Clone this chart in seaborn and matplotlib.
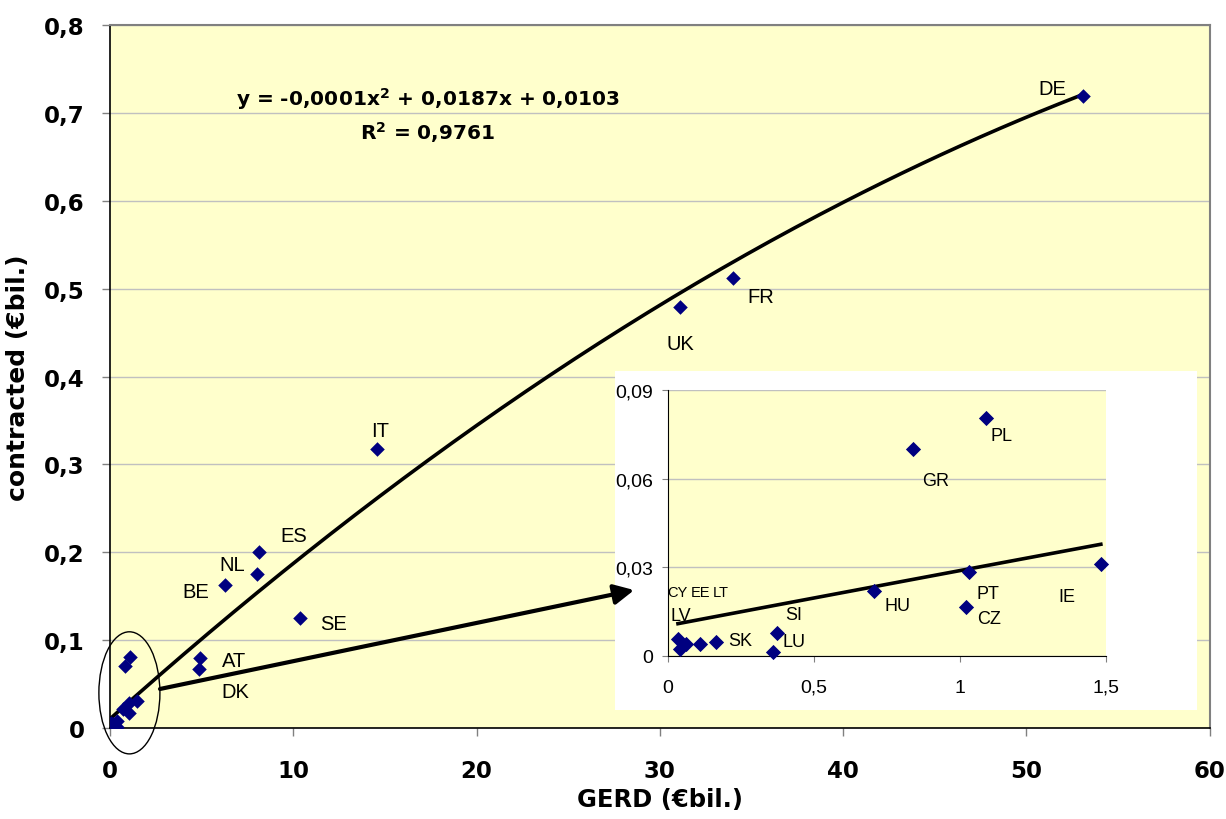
import numpy as np
import pandas as pd
import seaborn as sns
import matplotlib.pyplot as plt
from matplotlib.patches import Ellipse, Rectangle, FancyArrowPatch

# GERD vs contracted R&D, EUR bil.
countries = ['DE', 'FR', 'UK', 'IT', 'ES', 'NL', 'BE', 'SE', 'AT', 'DK',
             'PL', 'GR', 'IE', 'PT', 'CZ', 'HU', 'SI', 'LU', 'SK',
             'LT', 'EE', 'LV', 'CY']
gerd = [53.1, 34.0, 31.1, 14.57, 8.13, 8.02, 6.27, 10.37, 4.91, 4.86,
        1.089, 0.840, 1.482, 1.030, 1.019, 0.706, 0.374, 0.360, 0.163,
        0.111, 0.061, 0.034, 0.040]
contracted = [0.719, 0.512, 0.479, 0.318, 0.200, 0.175, 0.163, 0.125, 0.080, 0.067,
              0.0806, 0.0701, 0.0310, 0.0285, 0.0166, 0.0220, 0.0079, 0.0013, 0.0047,
              0.0039, 0.0042, 0.0057, 0.0025]
# trend line shown on the chart: y = -0,0001x^2 + 0,0187x + 0,0103
trend_coef = [-0.0001, 0.0187, 0.0103]
r2 = 0.9761

df = pd.DataFrame({'country': countries, 'gerd': gerd, 'contracted': contracted})

# label offsets in pixels (main chart / inset)
main_off = {'DE': (-31, 8), 'FR': (28, -18), 'UK': (0, -36), 'IT': (3, 18),
            'ES': (35, 17), 'NL': (-25, 10), 'BE': (-29, -7), 'SE': (33, -5),
            'AT': (34, -3), 'DK': (36, -22)}
inset_off = {'PL': (15, -18), 'GR': (22, -32), 'IE': (-34, -32), 'PT': (19, -22),
             'CZ': (23, -12), 'HU': (23, -15), 'SI': (16, 18), 'LU': (21, 11),
             'SK': (25, 2), 'LT': (20, 52), 'EE': (15, 52), 'LV': (3, 24),
             'CY': (-2, 57)}

plt.rcParams['font.family'] = ['Liberation Sans', 'DejaVu Sans']
yellow = '#FFFFCC'
navy = '#000080'
bold = dict(family='DejaVu Sans', fontweight='bold')

fig = plt.figure(figsize=(12.26, 8.2), dpi=100)
ax = fig.add_axes([0.0897, 0.111, 0.897, 0.857])
ax.set_facecolor(yellow)

sns.scatterplot(data=df, x='gerd', y='contracted', marker='D', color=navy,
                s=55, edgecolor=navy, linewidth=0, ax=ax, zorder=4)

xs = np.linspace(min(gerd), max(gerd), 200)
ax.plot(xs, np.polyval(trend_coef, xs), color='black', lw=2.6, zorder=3)

for c, (dx, dy) in main_off.items():
    i = countries.index(c)
    ax.annotate(c, (gerd[i], contracted[i]), xytext=(dx, dy), textcoords='offset pixels',
                ha='center', va='center', fontsize=14.5)

ax.text(17.35, 0.717, r'y = -0,0001x$^{\mathbf{2}}$ + 0,0187x + 0,0103', ha='center',
        va='center', fontsize=14.5, **bold)
ax.text(17.35, 0.679, r'R$^{\mathbf{2}}$ = ' + str(r2).replace('.', ','), ha='center',
        va='center', fontsize=14.5, **bold)

ax.set_xlim(0, 60)
ax.set_ylim(0, 0.8)
ax.set_xticks(range(0, 61, 10))
ax.set_xticklabels([str(v) for v in range(0, 61, 10)], **bold)
ax.set_yticks(np.arange(0, 0.81, 0.1))
ax.set_yticklabels(['0' if v == 0 else f'{v:.1f}'.replace('.', ',') for v in np.arange(0, 0.81, 0.1)],
                   **bold)
ax.yaxis.grid(True, color='#C0C0C0', lw=1)
ax.set_axisbelow(True)
ax.tick_params(labelsize=16.5, length=6, width=1, color='#808080')
ax.tick_params(axis='x', pad=16)
ax.tick_params(axis='y', pad=12)
ax.set_xlabel('GERD (€bil.)', fontsize=17.5, labelpad=4, **bold)
ax.set_ylabel('contracted (€bil.)', fontsize=18, labelpad=10, **bold)
for s in ['top', 'right']:
    ax.spines[s].set_color('#808080')
    ax.spines[s].set_linewidth(1.5)
for s in ['left', 'bottom']:
    ax.spines[s].set_color('black')
    ax.spines[s].set_linewidth(1.2)

# ellipse around the small countries
ax.add_patch(Ellipse((1.06, 0.04), 3.33, 0.139, fill=False, ec='black', lw=1,
                     clip_on=False, zorder=5))

# inset chart on a white panel
fig.patches.append(Rectangle((0.5016, 0.1329), 0.4747, 0.4134, transform=fig.transFigure,
                             facecolor='white', edgecolor='none', zorder=2))
# arrow from the ellipse to the inset, drawn above the panel
arrow = FancyArrowPatch((2.73, 0.0444), (28.6, 0.157), transform=ax.transData,
                        arrowstyle='-|>,head_length=12,head_width=6', mutation_scale=1,
                        color='black', lw=3, shrinkA=0, shrinkB=0, zorder=2.5)
fig.add_artist(arrow)

ins = fig.add_axes([0.5449, 0.1988, 0.3573, 0.3244], zorder=3)
ins.set_facecolor(yellow)
small = df[df['gerd'] < 1.6]
sns.scatterplot(data=small, x='gerd', y='contracted', marker='D', color=navy,
                s=60, edgecolor=navy, linewidth=0, ax=ins, zorder=4, clip_on=False)
xs2 = np.linspace(small['gerd'].min(), small['gerd'].max(), 100)
ins.plot(xs2, np.polyval(trend_coef, xs2), color='black', lw=2.6, zorder=3)
for c, (dx, dy) in inset_off.items():
    i = countries.index(c)
    fs = 10.5 if c in ('CY', 'EE', 'LT') else 13
    ins.annotate(c, (gerd[i], contracted[i]), xytext=(dx, dy), textcoords='offset pixels',
                 ha='center', va='center', fontsize=fs)
ins.set_xlim(0, 1.5)
ins.set_ylim(0, 0.09)
ins.set_xticks([0, 0.5, 1, 1.5])
ins.set_xticklabels(['0', '0,5', '1', '1,5'])
ins.set_yticks([0, 0.03, 0.06, 0.09])
ins.set_yticklabels(['0', '0,03', '0,06', '0,09'])
ins.yaxis.grid(True, color='#C0C0C0', lw=1)
ins.set_axisbelow(True)
ins.tick_params(labelsize=14, length=4.5, color='#808080', pad=6)
ins.tick_params(axis='x', pad=12)
ins.set_xlabel('')
ins.set_ylabel('')
for s in ['top', 'right']:
    ins.spines[s].set_visible(False)
for s in ['left', 'bottom']:
    ins.spines[s].set_color('black')

fig.savefig('out.png', dpi=100)
